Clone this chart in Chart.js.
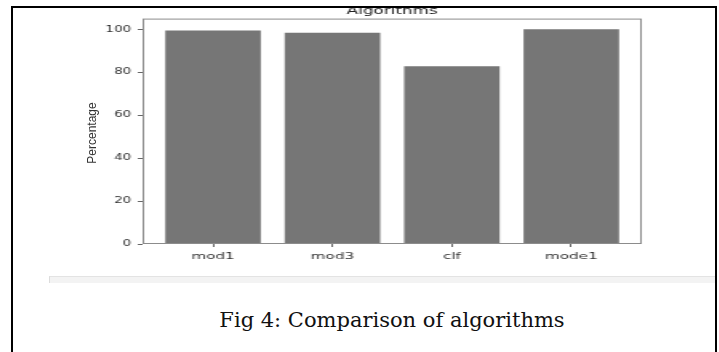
<!DOCTYPE html>
<html>
<head>
<meta charset="utf-8">
<script src="https://cdn.jsdelivr.net/npm/chart.js@4.4.0/dist/chart.umd.min.js"></script>
<style>
  html, body { margin: 0; padding: 0; background: #fff; }
  #page { position: relative; width: 719px; height: 352px; overflow: hidden; background: #fff; }
  /* the source figure is squashed vertically, so draw narrow and stretch sideways */
  #chart { position: absolute; left: 13px; top: 0; transform: scaleX(1.6); transform-origin: 0 0; }
  #frame { position: absolute; left: 11px; top: 6px; width: 702px; height: 360px;
           border: 2px solid #000; border-bottom: none; z-index: 2; }
  #ylabel { position: absolute; left: 92px; top: 133px; transform: translate(-50%, -50%) rotate(-90deg);
            font-family: "Liberation Sans Narrow", "Liberation Sans", sans-serif; font-size: 12px;
            color: #333; white-space: nowrap; }
  #band { position: absolute; left: 49px; top: 276px; width: 666px; height: 6px;
          background: #f3f3f3; border-top: 1px solid #e3e3e3; border-left: 1px solid #dcdcdc; }
  #caption { position: absolute; left: 0; top: 310px; width: 784px; text-align: center;
             font-family: "DejaVu Serif", serif; font-size: 21px; line-height: 21px; color: #111; }
</style>
</head>
<body>
<div id="page">
  <canvas id="chart" width="439" height="270"></canvas>
  <div id="ylabel">Percentage</div>
  <div id="band"></div>
  <div id="caption">Fig 4: Comparison of algorithms</div>
  <div id="frame"></div>
</div>
<script>
// data
const categories = ["mod1", "mod3", "clf", "mode1"];
const percentages = [99.5, 98.4, 82.8, 100];
const yTicks = [0, 20, 40, 60, 80, 100];

// box around the plot area (matplotlib spines)
const plotBox = {
  id: "plotBox",
  afterDatasetsDraw(chart) {
    const { ctx, chartArea: a } = chart;
    ctx.save();
    ctx.strokeStyle = "#8c8c8c";
    ctx.lineWidth = 1;
    ctx.strokeRect(a.left + 0.5, a.top + 0.5, a.right - a.left - 1, a.bottom - a.top - 1);
    ctx.restore();
  }
};

const ctx = document.getElementById("chart").getContext("2d");
new Chart(ctx, {
  type: "bar",
  data: {
    datasets: [{
      data: percentages.map((v, i) => ({ x: i, y: v })),
      backgroundColor: "#767676",
      borderWidth: 0,
      categoryPercentage: 1,
      barPercentage: 0.8
    }]
  },
  options: {
    responsive: false,
    devicePixelRatio: 1,
    animation: false,
    layout: { padding: { left: 0, right: 46, top: 0, bottom: 0 } },
    plugins: {
      legend: { display: false },
      tooltip: { enabled: false },
      title: {
        display: true,
        text: "Algorithms",
        fullSize: false,
        color: "#222",
        font: { family: "DejaVu Sans", size: 10.5, weight: "normal" },
        padding: { top: 5, bottom: 1 }
      }
    },
    scales: {
      x: {
        type: "linear",
        min: -0.59,
        max: 3.59,
        offset: false,
        afterBuildTicks: s => { s.ticks = categories.map((c, i) => ({ value: i })); },
        afterFit: s => { s.height = 26; },
        grid: { display: true, offset: false, drawOnChartArea: false, tickLength: 3, tickColor: "#666" },
        border: { display: false },
        ticks: {
          padding: 4,
          color: "#333",
          font: { family: "DejaVu Sans", size: 9.5 },
          callback: v => categories[v]
        }
      },
      y: {
        min: 0,
        max: 105,
        afterBuildTicks: s => { s.ticks = yTicks.map(v => ({ value: v })); },
        afterFit: s => { s.width = 81; },
        grid: { display: true, drawOnChartArea: false, tickLength: 3, tickColor: "#666" },
        border: { display: false },
        ticks: {
          padding: 4,
          color: "#333",
          font: { family: "DejaVu Sans", size: 8.5 }
        }
      }
    }
  },
  plugins: [plotBox]
});
</script>
</body>
</html>
